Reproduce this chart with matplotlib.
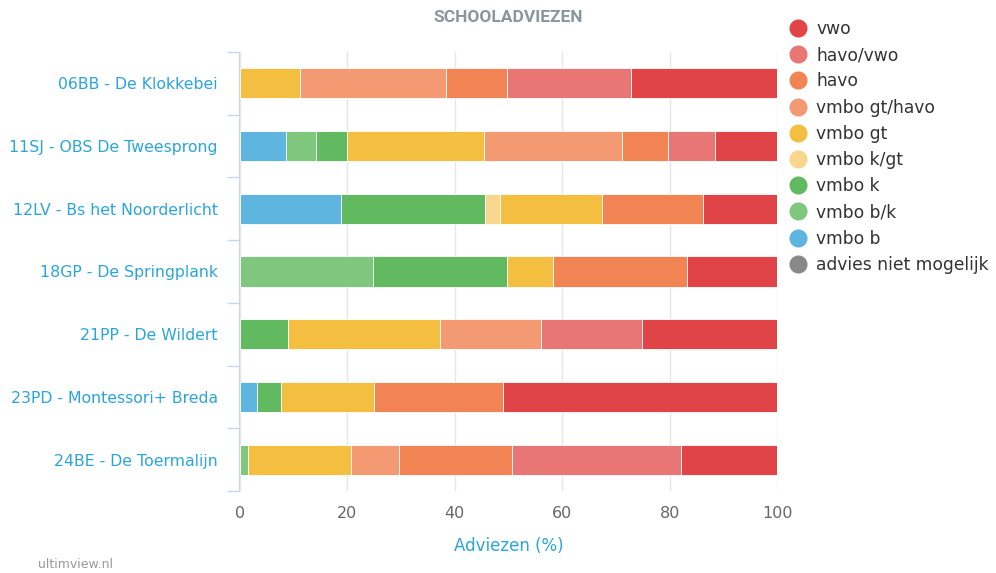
import matplotlib.pyplot as plt
from matplotlib.lines import Line2D

scholen = ['06BB - De Klokkebei', '11SJ - OBS De Tweesprong', '12LV - Bs het Noorderlicht',
           '18GP - De Springplank', '21PP - De Wildert', '23PD - Montessori+ Breda',
           '24BE - De Toermalijn']

# percentages per advies, in stapelvolgorde (links naar rechts)
niet_mogelijk = [0, 0, 0, 0, 0, 0, 0]
vmbo_b = [0, 8.5, 18.8, 0, 0, 3.1, 0]
vmbo_bk = [0, 5.7, 0, 24.8, 0, 0, 1.4]
vmbo_k = [0, 5.8, 26.9, 25.0, 9.0, 4.6, 0]
vmbo_kgt = [0, 0, 2.7, 0, 0, 0, 0]
vmbo_gt = [11.2, 25.4, 19.1, 8.4, 28.3, 17.3, 19.3]
vmbo_gt_havo = [27.2, 25.8, 0, 0, 18.8, 0, 8.9]
havo = [11.4, 8.5, 18.7, 25.0, 0, 23.9, 21.0]
havo_vwo = [23.1, 8.7, 0, 0, 18.7, 0, 31.6]
vwo = [27.1, 11.6, 13.8, 16.8, 25.2, 51.1, 17.8]

series = [
    ('advies niet mogelijk', niet_mogelijk, '#888888'),
    ('vmbo b', vmbo_b, '#5db5e0'),
    ('vmbo b/k', vmbo_bk, '#80c77e'),
    ('vmbo k', vmbo_k, '#62ba60'),
    ('vmbo k/gt', vmbo_kgt, '#f8d68e'),
    ('vmbo gt', vmbo_gt, '#f4bf40'),
    ('vmbo gt/havo', vmbo_gt_havo, '#f49a72'),
    ('havo', havo, '#f28352'),
    ('havo/vwo', havo_vwo, '#e87674'),
    ('vwo', vwo, '#e04446'),
]

fig = plt.figure(figsize=(9.96, 5.73), dpi=100)
ax = fig.add_axes([240 / 996, 1 - 491 / 573, 537 / 996, 439 / 573])

y = list(range(len(scholen)))
links = [0.0] * len(scholen)
for naam, waarden, kleur in series:
    ax.barh(y, waarden, left=links, height=0.48, color=kleur, edgecolor='white',
            linewidth=0.6, zorder=3)
    links = [a + b for a, b in zip(links, waarden)]

ax.set_xlim(0, 100)
ax.set_ylim(len(scholen) - 0.5, -0.5)
ax.set_xticks(range(0, 101, 20))
ax.grid(axis='x', color='#e6e6e6', linewidth=1, zorder=0)
for s in ['top', 'right', 'bottom']:
    ax.spines[s].set_visible(False)
ax.spines['left'].set_color('#ccd6eb')
ax.spines['left'].set_position(('outward', 1))

ax.set_yticks(y)
ax.set_yticklabels(scholen)
ax.set_yticks([i - 0.5 for i in range(len(scholen) + 1)], minor=True)
ax.tick_params(axis='y', which='major', length=0, pad=15, labelsize=11.3, labelcolor='#2aa5dc')
ax.tick_params(axis='y', which='minor', length=9, color='#ccd6eb', width=1)
ax.tick_params(axis='x', length=0, pad=11, labelsize=11.5, labelcolor='#666666')
ax.set_xlabel('Adviezen (%)', color='#2aa5dc', fontsize=12, labelpad=11)

fig.text(508 / 996, 1 - 17 / 573, 'SCHOOLADVIEZEN', ha='center', va='center',
         fontsize=12.5, fontweight='bold', color='#8a959c', family='Roboto')
fig.text(38 / 996, 1 - 565 / 573, 'ultimview.nl', ha='left', va='center',
         fontsize=9, color='#999999')

handles = [Line2D([], [], marker='o', linestyle='', markersize=12, color=k)
           for _, _, k in reversed(series)]
labels = [n for n, _, _ in reversed(series)]
leg = fig.legend(handles, labels, loc='upper left', bbox_to_anchor=(788 / 996, 1 - 20 / 573),
                 frameon=False, fontsize=12.3, labelspacing=0.48, handletextpad=0.45,
                 handlelength=1.2, borderaxespad=0, borderpad=0)
for t in leg.get_texts():
    t.set_color('#333333')

fig.savefig('out.png', dpi=100)
